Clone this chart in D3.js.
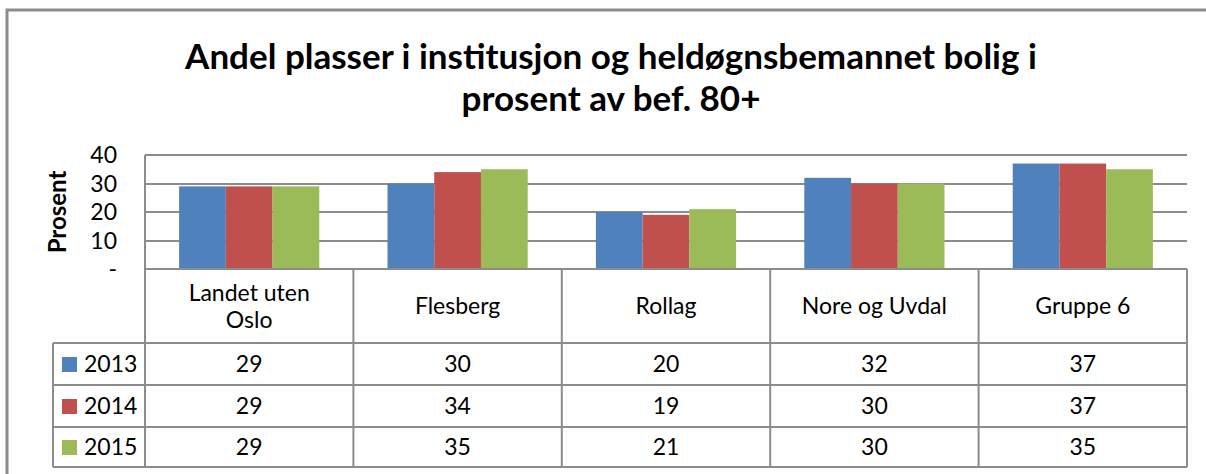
<!DOCTYPE html>
<html>
<head>
<meta charset="utf-8">
<script src="https://d3js.org/d3.v7.min.js"></script>
<style>
  body { margin: 0; background: #fff; }
  svg { display: block; font-family: Lato, "Open Sans", sans-serif; }
</style>
</head>
<body>
<svg width="1206" height="474"></svg>
<script>
var categories = [["Landet uten", "Oslo"], ["Flesberg"], ["Rollag"], ["Nore og Uvdal"], ["Gruppe 6"]];
var years = ["2013", "2014", "2015"];
var v2013 = [29, 30, 20, 32, 37];
var v2014 = [29, 34, 19, 30, 37];
var v2015 = [29, 35, 21, 30, 35];
var yTicks = [0, 10, 20, 30, 40];
var colors = ["#4F81BD", "#C0504D", "#9BBB59"];
var series = [v2013, v2014, v2015];

var svg = d3.select("svg");
var grey = "#8c8c8c";

// outer frame
svg.append("path")
    .attr("d", "M7,474 V10 H1206")
    .attr("fill", "none").attr("stroke", grey).attr("stroke-width", 3);

// title
var title = svg.append("text")
    .attr("text-anchor", "middle")
    .attr("font-weight", "bold").attr("font-size", 35).attr("fill", "#000");
title.append("tspan").attr("x", 611).attr("y", 69).text("Andel plasser i institusjon og heldøgnsbemannet bolig i");
title.append("tspan").attr("x", 611).attr("y", 111).text("prosent av bef. 80+");

var plotL = 145, plotR = 1187, plotT = 155, zero = 269;
var x = d3.scaleBand().domain(d3.range(categories.length)).range([plotL, plotR]);
var y = d3.scaleLinear().domain([0, 40]).range([zero, plotT]);
var inner = d3.scaleBand().domain(d3.range(years.length))
    .range([0, x.bandwidth()]).paddingOuter(0.73).paddingInner(0);

// grid
svg.append("g").selectAll("line").data(yTicks.slice(1)).join("line")
    .attr("x1", plotL).attr("x2", plotR)
    .attr("y1", d => Math.round(y(d))).attr("y2", d => Math.round(y(d)))
    .attr("stroke", grey).attr("stroke-width", 2);
svg.append("line").attr("x1", plotL).attr("x2", plotL).attr("y1", plotT).attr("y2", zero)
    .attr("stroke", grey).attr("stroke-width", 2);

// y axis labels
svg.append("g").selectAll("text").data(yTicks).join("text")
    .attr("x", 117).attr("y", d => y(d) + 8)
    .attr("text-anchor", "end").attr("font-size", 23)
    .text(d => d === 0 ? "-" : d);

svg.append("text")
    .attr("transform", "translate(66,212) rotate(-90)")
    .attr("text-anchor", "middle").attr("font-weight", "bold").attr("font-size", 24)
    .text("Prosent");

// bars
series.forEach(function(vals, s) {
  svg.append("g").selectAll("rect").data(vals).join("rect")
      .attr("x", (d, i) => x(i) + inner(s))
      .attr("width", inner.bandwidth())
      .attr("y", d => y(d))
      .attr("height", d => zero - y(d))
      .attr("fill", colors[s]);
});

// data table
var rowTop = [zero, 343, 385, 427, 467];
var legLeft = 53;
var tbl = svg.append("g").attr("stroke", grey).attr("stroke-width", 2).attr("fill", "none");
tbl.append("line").attr("x1", plotL).attr("x2", plotR).attr("y1", zero).attr("y2", zero);
rowTop.slice(1).forEach(function(yy) {
  tbl.append("line").attr("x1", legLeft).attr("x2", plotR).attr("y1", yy).attr("y2", yy);
});
d3.range(categories.length + 1).forEach(function(i) {
  var xx = i < categories.length ? x(i) : plotR;
  tbl.append("line").attr("x1", xx).attr("x2", xx).attr("y1", zero).attr("y2", rowTop[4]);
});
tbl.append("line").attr("x1", legLeft).attr("x2", legLeft).attr("y1", rowTop[1]).attr("y2", rowTop[4]);

// category headers
categories.forEach(function(lines, i) {
  var cx = x(i) + x.bandwidth() / 2;
  var cy = (rowTop[0] + rowTop[1]) / 2;
  var t = svg.append("text").attr("text-anchor", "middle").attr("font-size", 23);
  lines.forEach(function(l, k) {
    t.append("tspan").attr("x", cx)
        .attr("y", cy + 8 + (k - (lines.length - 1) / 2) * 27)
        .text(l);
  });
});

// value rows
series.forEach(function(vals, s) {
  var cy = (rowTop[s + 1] + rowTop[s + 2]) / 2;
  svg.append("rect").attr("x", 62).attr("y", cy - 7).attr("width", 15).attr("height", 15)
      .attr("fill", colors[s]);
  svg.append("text").attr("x", 84).attr("y", cy + 8).attr("font-size", 23).text(years[s]);
  svg.append("g").selectAll("text").data(vals).join("text")
      .attr("x", (d, i) => x(i) + x.bandwidth() / 2)
      .attr("y", cy + 8)
      .attr("text-anchor", "middle").attr("font-size", 23)
      .text(d => d);
});
</script>
</body>
</html>
